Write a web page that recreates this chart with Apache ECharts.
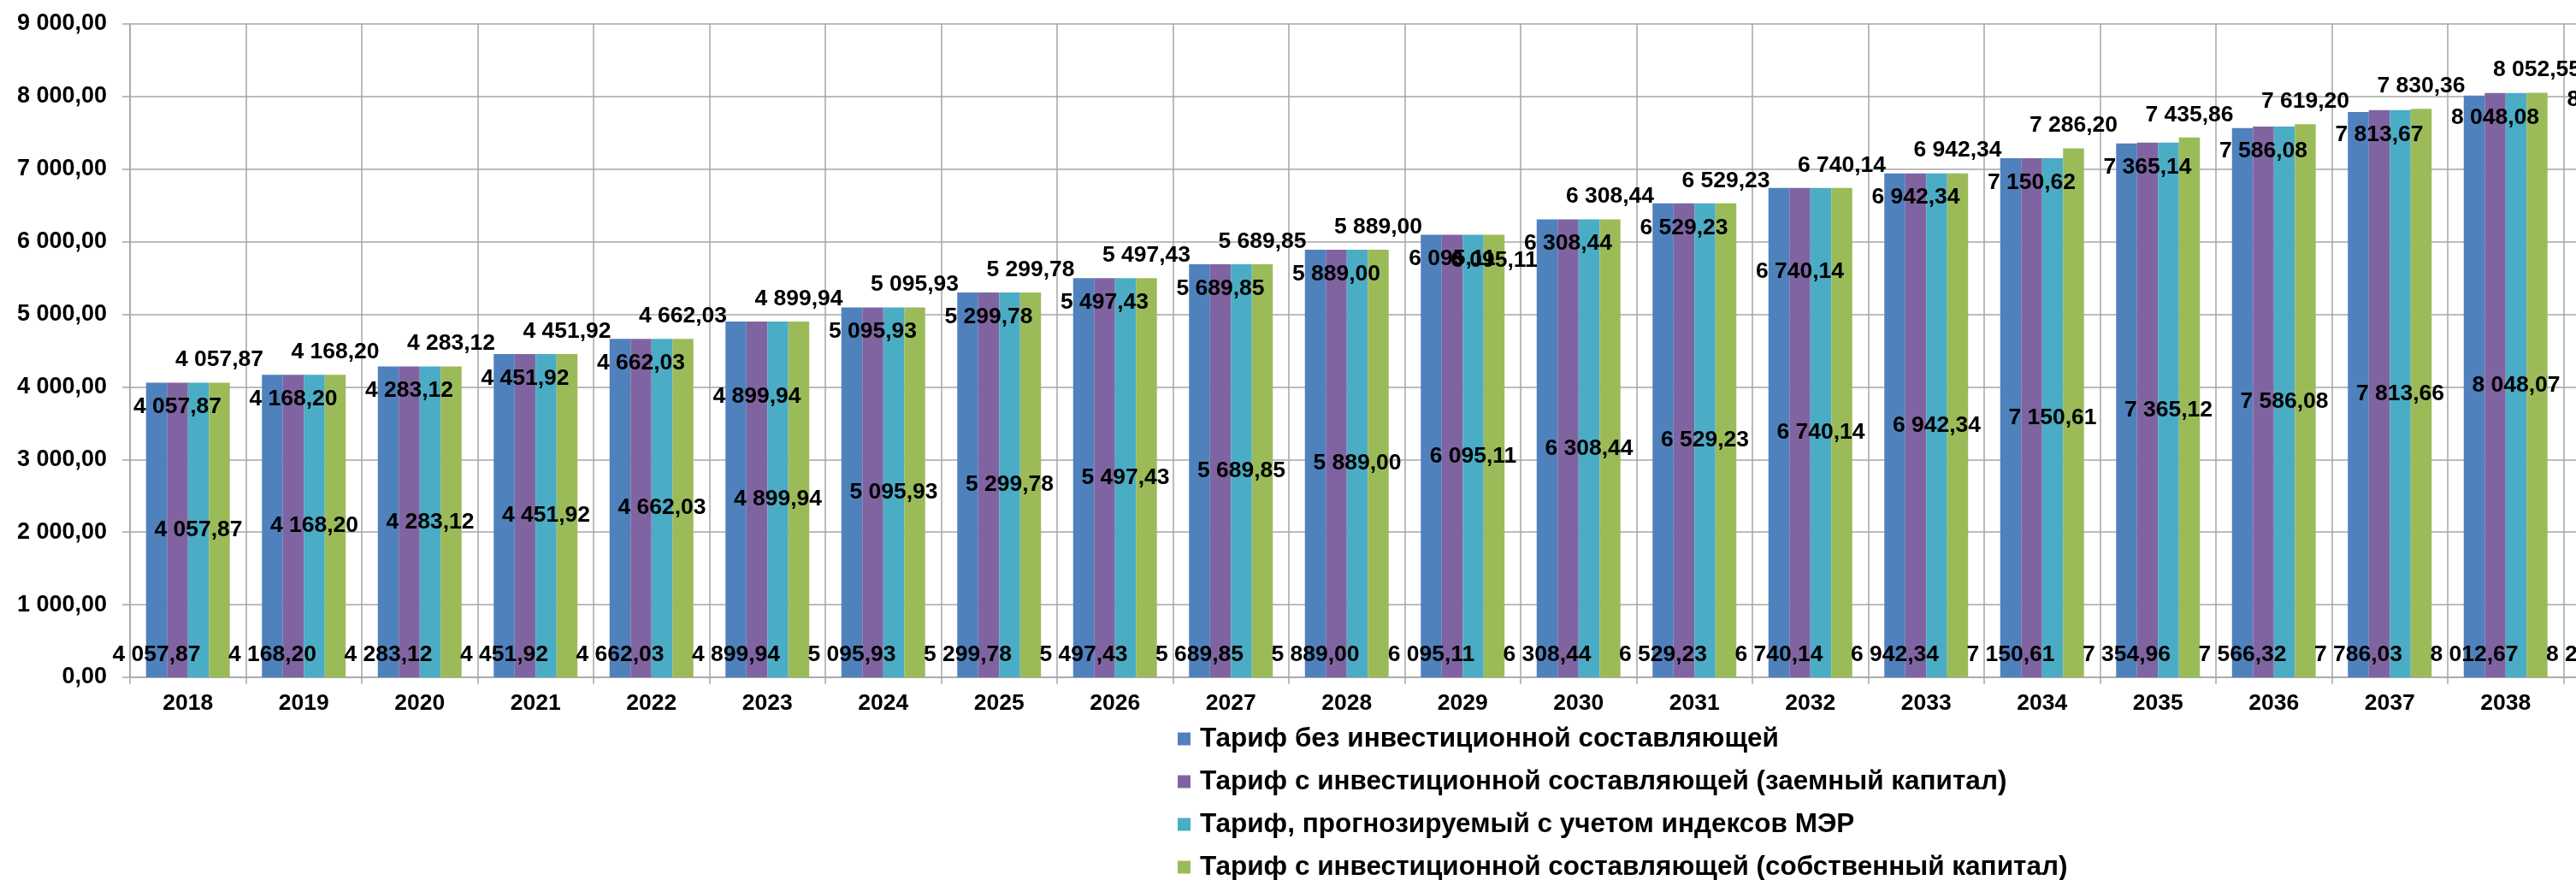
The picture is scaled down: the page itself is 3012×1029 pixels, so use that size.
<!DOCTYPE html>
<html>
<head>
<meta charset="utf-8">
<script src="https://cdn.jsdelivr.net/npm/echarts@6/dist/echarts.min.js"></script>
<style>
  html, body { margin: 0; padding: 0; background: #fff; overflow: hidden; }
  #chart { width: 3140px; height: 1029px; }
</style>
</head>
<body>
<div id="chart"></div>
<script>
// годы (последний, 2039, в кадр почти не попадает - видны только обрывки подписей)
var years = ['2018', '2019', '2020', '2021', '2022', '2023', '2024', '2025', '2026', '2027', '2028',
  '2029', '2030', '2031', '2032', '2033', '2034', '2035', '2036', '2037', '2038', '2039'];

var seriesNames = [
  'Тариф без инвестиционной составляющей',
  'Тариф с инвестиционной составляющей (заемный капитал)',
  'Тариф, прогнозируемый с учетом индексов МЭР',
  'Тариф с инвестиционной составляющей (собственный капитал)'
];

var tariffBase = [4057.87, 4168.20, 4283.12, 4451.92, 4662.03, 4899.94, 5095.93, 5299.78, 5497.43, 5689.85, 5889.00,
  6095.11, 6308.44, 6529.23, 6740.14, 6942.34, 7150.61, 7354.96, 7566.32, 7786.03, 8012.67, 8246.00];
var tariffLoan = [4057.87, 4168.20, 4283.12, 4451.92, 4662.03, 4899.94, 5095.93, 5299.78, 5497.43, 5689.85, 5889.00,
  6095.11, 6308.44, 6529.23, 6740.14, 6942.34, 7150.62, 7365.14, 7586.08, 7813.67, 8048.08, 8289.00];
var tariffMer = [4057.87, 4168.20, 4283.12, 4451.92, 4662.03, 4899.94, 5095.93, 5299.78, 5497.43, 5689.85, 5889.00,
  6095.11, 6308.44, 6529.23, 6740.14, 6942.34, 7150.61, 7365.12, 7586.08, 7813.66, 8048.07, 8289.00];
var tariffOwn = [4057.87, 4168.20, 4283.12, 4451.92, 4662.03, 4899.94, 5095.93, 5299.78, 5497.43, 5689.85, 5889.00,
  6095.11, 6308.44, 6529.23, 6740.14, 6942.34, 7286.20, 7435.86, 7619.20, 7830.36, 8052.55, 8295.00];

var yMin = 0, yMax = 9000, yStep = 1000;

var colors = ['#4F81BD', '#8064A2', '#4BACC6', '#9BBB59'];
var font = "'Liberation Sans', Arial, sans-serif";
var gridColor = '#a6a6a6';

// 8057.87 -> "8 057,87"
function fmt(v) {
  var s = Number(v).toFixed(2).split('.');
  return s[0].replace(/\B(?=(\d{3})+(?!\d))/g, ' ') + ',' + s[1];
}

function labelStyle(position, dy) {
  return {
    show: true,
    position: position,
    offset: [0, dy],
    color: '#000',
    textBorderWidth: 0,
    fontFamily: font,
    fontWeight: 'bold',
    fontSize: 26.5,
    formatter: function (p) { return fmt(p.value); }
  };
}

// в исходнике пара подписей сдвинута вручную
function withShift(values, shifts, position) {
  return values.map(function (v, i) {
    if (shifts[i] === undefined) return v;
    return { value: v, label: { position: position, offset: [0, shifts[i]] } };
  });
}

function makeBar(name, data, label) {
  return {
    name: name,
    type: 'bar',
    barGap: '0%',
    barCategoryGap: '27.7%',
    data: data,
    label: label
  };
}

function getOption() {
  var option = {
    animation: false,
    backgroundColor: '#fff',
    color: colors,
    textStyle: { fontFamily: font },
    grid: {
      left: 152,
      top: 28,
      right: 7,
      bottom: 237,
      containLabel: false
    },
    legend: {
      orient: 'vertical',
      left: 1372,
      top: 843,
      height: 260,
      icon: 'rect',
      itemWidth: 15,
      itemHeight: 15,
      itemGap: 18,
      data: seriesNames,
      textStyle: {
        fontFamily: font,
        fontWeight: 'bold',
        fontSize: 31.5,
        lineHeight: 30,
        color: '#000',
        padding: [0, 0, 0, 6]
      }
    },
    xAxis: {
      type: 'category',
      data: years,
      boundaryGap: true,
      axisLine: { lineStyle: { color: gridColor, width: 1.5 } },
      axisTick: { show: true, length: 8, lineStyle: { color: gridColor, width: 1.5 } },
      splitLine: { show: true, lineStyle: { color: gridColor, width: 1.5 } },
      axisLabel: {
        margin: 17,
        color: '#000',
        fontFamily: font,
        fontWeight: 'bold',
        fontSize: 26.5
      }
    },
    yAxis: {
      type: 'value',
      min: yMin,
      max: yMax,
      interval: yStep,
      axisLine: { show: true, lineStyle: { color: gridColor, width: 1.5 } },
      axisTick: { show: true, length: 9, lineStyle: { color: gridColor, width: 1.5 } },
      splitLine: { show: true, lineStyle: { color: gridColor, width: 1.5 } },
      axisLabel: {
        margin: 27,
        color: '#000',
        fontFamily: font,
        fontWeight: 'bold',
        fontSize: 27,
        formatter: function (v) { return fmt(v); }
      }
    },
    series: [
      makeBar(seriesNames[0], tariffBase, labelStyle('insideBottom', -8)),
      makeBar(seriesNames[1], withShift(tariffLoan, { 5: 69, 14: 79 }, 'insideTop'), labelStyle('insideTop', 10)),
      makeBar(seriesNames[2], tariffMer, labelStyle('inside', 0)),
      makeBar(seriesNames[3], withShift(tariffOwn, { 11: 12 }, 'insideTop'), labelStyle('top', -8))
    ]
  };
  return option;
}

var chart = echarts.init(document.getElementById('chart'), null, { renderer: 'canvas' });
chart.setOption(getOption());
</script>
</body>
</html>
